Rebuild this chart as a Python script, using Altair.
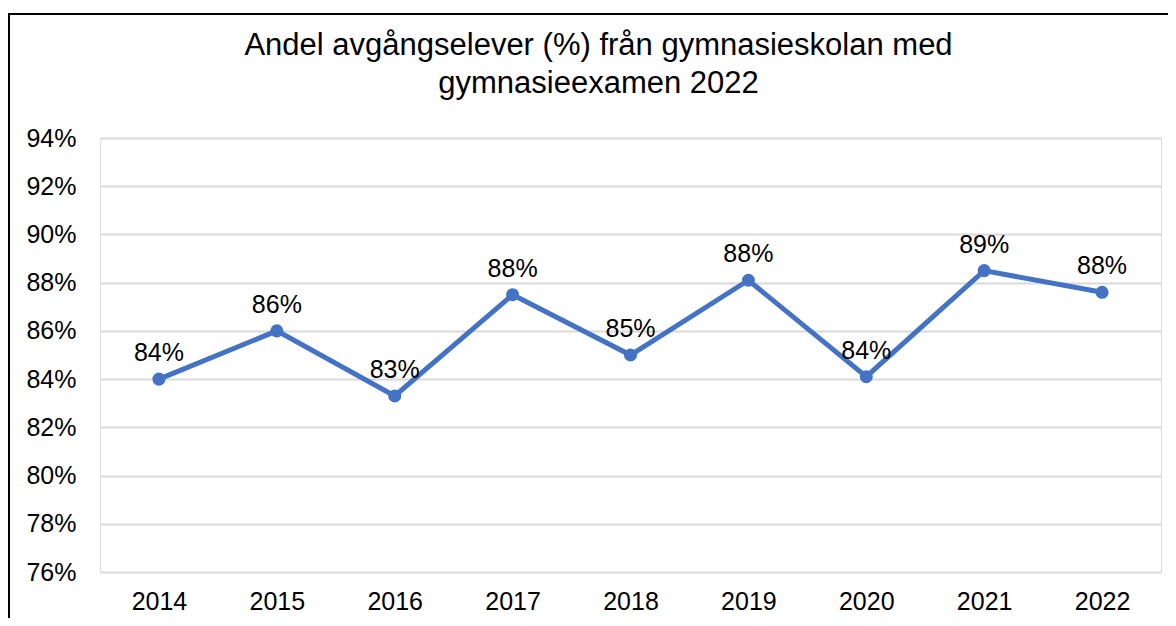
import altair as alt
import pandas as pd

years = ["2014", "2015", "2016", "2017", "2018", "2019", "2020", "2021", "2022"]
values = [84.0, 86.0, 83.3, 87.5, 85.0, 88.1, 84.1, 88.5, 87.6]
y_ticks = [76, 78, 80, 82, 84, 86, 88, 90, 92, 94]
title_lines = ["Andel avgångselever (%) från gymnasieskolan med", "gymnasieexamen 2022"]

df = pd.DataFrame({"year": years, "value": values})

FONT = "Liberation Sans"
BLUE = "#4472C4"

x_enc = alt.X("year:N", sort=years,
              scale=alt.Scale(type="point", padding=0.5),
              axis=alt.Axis(title=None, labelAngle=0, ticks=False, domain=False, grid=False,
                            labelFont=FONT, labelFontSize=25, labelColor="#000000",
                            labelPadding=17))
y_enc = alt.Y("value:Q",
              scale=alt.Scale(domain=[76, 94], nice=False, zero=False),
              axis=alt.Axis(title=None, values=y_ticks, ticks=False, domain=False,
                            labelExpr="datum.value + '%'",
                            labelFont=FONT, labelFontSize=25, labelColor="#000000",
                            labelPadding=24, gridColor="#d9d9d9", gridWidth=2))

base = alt.Chart(df)

line = base.mark_line(color=BLUE, strokeWidth=5, point=alt.OverlayMarkDef(color=BLUE, size=170, filled=True, opacity=1)).encode(
    x=x_enc, y=y_enc)

labels = base.transform_calculate(
    lab="format(round(datum.value), 'd') + '%'"
).mark_text(font=FONT, fontSize=25, color="#000000", baseline="alphabetic", dy=-18).encode(
    x=alt.X("year:N", sort=years), y="value:Q", text="lab:N")

frame = alt.Chart(pd.DataFrame({"a": [0]})).mark_rect(
    fill=None, stroke="#000000", strokeWidth=2, clip=False
).encode(x=alt.value(-91), x2=alt.value(1300), y=alt.value(-124), y2=alt.value(800))

chart = alt.layer(line, labels, frame).properties(
    width=1061, height=434,
    title=alt.TitleParams(title_lines, font=FONT, fontSize=31, fontWeight="normal", color="#000000",
                          anchor="middle", dx=-32, offset=-87, lineHeight=38),
    autosize=alt.AutoSizeParams(type="none"),
    padding={"left": 92, "top": 130, "right": 7, "bottom": 46},
).configure_view(stroke=None).configure(background="#ffffff")

chart.save("out.html", embed_options={"renderer": "svg", "actions": False})
